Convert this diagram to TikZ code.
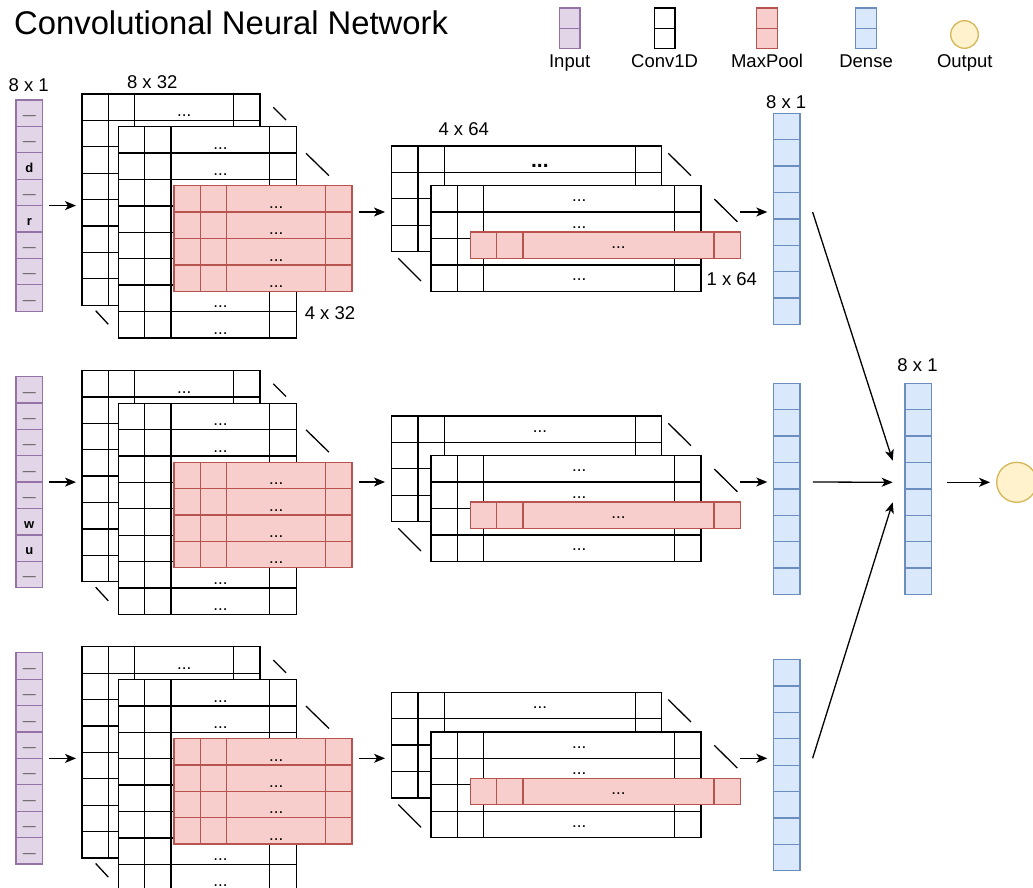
\documentclass[tikz,border=0pt]{standalone}
\usepackage{fontspec}
\setmainfont{Liberation Sans}
\usetikzlibrary{calc}
\usetikzlibrary{arrows.meta}

\definecolor{inpfill}{HTML}{E1D5E7}
\definecolor{inpline}{HTML}{9673A6}
\definecolor{poolfill}{HTML}{F8CECC}
\definecolor{poolline}{HTML}{B85450}
\definecolor{densefill}{HTML}{DAE8FC}
\definecolor{denseline}{HTML}{6C8EBF}
\definecolor{outfill}{HTML}{FFF2CC}
\definecolor{outdraw}{HTML}{D6B656}

\newcommand{\inpdash}{\textcolor{black!70}{\mdseries —}}

% column of 8 cells: name, x, y, style
\newcommand{\cellcol}[4]{%
  \node[box, #4, minimum width=26.6pt, minimum height=211.2pt] (#1) at (#2,#3) {};
  \foreach \k in {1,...,7}{\draw[#4] (#2,#3+\k*26.4) -- ++(26.6,0);}%
}

% table layer: name, x, y, rows, middle width, style, dots style
\newcommand{\tablayer}[7]{%
  \pgfmathsetmacro{\laywd}{79.2+#5}%
  \pgfmathsetmacro{\layht}{26.4*#4}%
  \node[box, #6, minimum width=\laywd pt, minimum height=\layht pt] (#1) at (#2,#3) {};
  \begin{scope}[shift={(#2,#3)}]
    \foreach \k in {1,...,#4}{
      \draw[#6] (0,\k*26.4-26.4) -- (\laywd,\k*26.4-26.4);
      \node[#7] at (52.8+#5/2,\k*26.4-26.4) {...};
    }
    \foreach \cx in {26.4,52.8,52.8+#5}{\draw[#6] (\cx,0) -- (\cx,\layht);}
  \end{scope}%
}

\begin{document}
\begin{tikzpicture}[x=1pt, y=-1pt,
    box/.style={inner sep=0pt, outer sep=0pt, anchor=north west},
    inpcell/.style={draw=inpline, fill=inpfill, line width=1.3pt},
    convcell/.style={draw=black, fill=white, line width=1.3pt},
    poolcell/.style={draw=poolline, fill=poolfill, line width=1.3pt},
    densecell/.style={draw=denseline, fill=densefill, line width=1.3pt},
    outc/.style={circle, draw=outdraw, fill=outfill, line width=1.3pt, inner sep=0pt},
    dotsA/.style={anchor=base, yshift=-22.5pt, inner sep=0pt, font=\fontsize{17}{18}\selectfont},
    dotsB/.style={anchor=base, yshift=-16pt, inner sep=0pt, font=\fontsize{17}{18}\selectfont},
    dotsbig/.style={anchor=base, yshift=-21.5pt, inner sep=0pt, font=\fontsize{21}{22}\selectfont\bfseries},
    inptxt/.style={anchor=base, yshift=-19.5pt, inner sep=0pt, font=\fontsize{13}{14}\selectfont\bfseries},
    lbl/.style={inner sep=0pt, font=\fontsize{18.5}{20}\selectfont},
    tick/.style={line width=1.3pt},
    arr/.style={-{Stealth[length=11pt,width=9pt,inset=3pt]}, line width=1.3pt}]
  \useasboundingbox (0,0) rectangle (1033,888);
  \fill[white] (0,0) rectangle (1033,888);
  %
  \node[anchor=base west, inner sep=0pt, font=\fontsize{32.8}{36}\selectfont] (title) at (14,34.3) {Convolutional Neural Network};
  %
  \foreach \n/\x/\s/\t in {inp/559.3/inpcell/Input, conv/654.3/convcell/Conv1D, pool/756.7/poolcell/MaxPool, dense/855.7/densecell/Dense}{
    \node[box, \s, minimum width=20.7pt, minimum height=40.3pt] (key\n) at (\x,8) {};
    \draw[\s] (\x,28.2) -- ++(20.7,0);
    \node[lbl, anchor=base] (lab\n) at ($(key\n.south)+(0,19.7)$) {\t};
  }
  \node[outc, minimum size=27.6pt] (keyout) at (964.5,34.5) {};
  \node[lbl, anchor=base] (labout) at (964.8,68) {Output};
  %
  \foreach \r/\L/\R/\ds/\seq in {1/0/0/dotsbig/{\inpdash,\inpdash,d,\inpdash,r,\inpdash,\inpdash,\inpdash},
      2/276.5/270/dotsB/{\inpdash,\inpdash,\inpdash,\inpdash,\inpdash,w,u,\inpdash},
      3/552.8/546.3/dotsB/{\inpdash,\inpdash,\inpdash,\inpdash,\inpdash,\inpdash,\inpdash,\inpdash}}{
    % input
    \cellcol{in\r}{16}{100+\L}{inpcell}
    \foreach \t [count=\k] in \seq {\node[inptxt] at (29.3,100+\L+\k*26.4-26.4) {\t};}
    % conv 8 x 32 and pool 4 x 32
    \tablayer{ca\r}{82}{94+\L}{8}{98.7}{convcell}{dotsA}
    \tablayer{cb\r}{118.3}{126.7+\L}{8}{98.7}{convcell}{dotsA}
    \tablayer{mp\r}{174}{185.7+\L}{4}{98.7}{poolcell}{dotsA}
    \draw[tick] (273.3,107.3+\L) -- (286,120+\L);
    \draw[tick] (306,153.3+\L) -- (329,175.7+\L);
    \draw[tick] (95.7,310.7+\L) -- (108.3,324.3+\L);
    % conv 4 x 64 and pool 1 x 64
    \tablayer{cd\r}{391.7}{146+\R}{4}{190.8}{convcell}{\ds}
    \tablayer{ce\r}{431}{185.7+\R}{4}{190.8}{convcell}{dotsB}
    \tablayer{mq\r}{470.3}{232+\R}{1}{190.8}{poolcell}{dotsB}
    \draw[tick] (668.3,153.3+\R) -- (691,175.7+\R);
    \draw[tick] (714.3,199+\R) -- (737.3,221.7+\R);
    \draw[tick] (398.3,258.3+\R) -- (421,281+\R);
    % dense
    \cellcol{de\r}{773.3}{113.3+\R}{densecell}
    % arrows
    \coordinate (j\r) at ($(cd\r.north west)+(0,66)$);
    \draw[arr, shorten <=6.6pt, shorten >=6pt] (in\r.east) -- (in\r.east -| ca\r.west);
    \draw[arr, shorten <=6.7pt, shorten >=6.7pt] (mp\r.east |- j\r) -- (j\r);
    \draw[arr, shorten >=6pt] (mq\r.east |- j\r) -- (j\r -| de\r.west);
  }
  %
  \cellcol{fin}{905}{383.3}{densecell}
  \node[outc, minimum size=40pt] (out) at (1016.7,482.3) {};
  \coordinate (hub) at (892.7,482.3);
  \draw[arr] ($(de1.east |- j1)+(12.7,0)$) -- ($(hub)+(0,-21.6)$);
  \draw[arr] ($(de2.east |- j2)+(13,0)$) -- (hub);
  \draw[arr] ($(de3.east |- j3)+(12.7,0)$) -- ($(hub)+(0,20)$);
  \draw[arr, shorten <=15.4pt, shorten >=6pt] (fin.east |- out) -- (out.west);
  %
  \node[lbl] (dimin) at (28.7,85) {8 x 1};
  \node[lbl] (dimca) at (152.2,81.7) {8 x 32};
  \node[lbl] (dimmp) at (330,313.3) {4 x 32};
  \node[lbl] (dimcd) at (463.7,129.3) {4 x 64};
  \node[lbl] (dimmq) at (731.8,279) {1 x 64};
  \node[lbl] (dimde) at (786.2,101.7) {8 x 1};
  \node[lbl] (dimfin) at (917.5,365) {8 x 1};
\end{tikzpicture}
\end{document}
